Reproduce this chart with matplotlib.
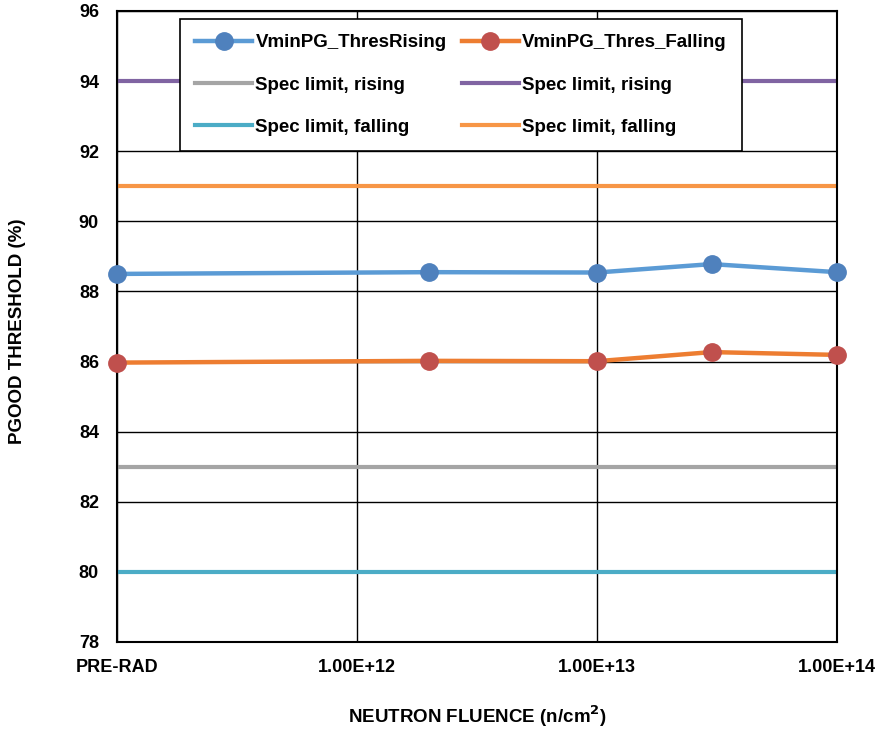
import numpy as np
from matplotlib import pyplot as plt

# fluencias (PRE-RAD se dibuja en 1e11 sobre el eje log)
fluencia = [1e11, 2e12, 1e13, 3e13, 1e14]
umbral_subida = [88.50, 88.55, 88.54, 88.78, 88.55]
umbral_bajada = [85.97, 86.02, 86.01, 86.27, 86.19]

# limites de especificacion
lim_subida_min = 83
lim_subida_max = 94
lim_bajada_min = 80
lim_bajada_max = 91

ticks_x = [1e11, 1e12, 1e13, 1e14]
etiquetas_x = ['PRE-RAD', '1.00E+12', '1.00E+13', '1.00E+14']
ticks_y = np.arange(78, 97, 2)

plt.rcParams['font.family'] = ['Liberation Sans', 'DejaVu Sans']
plt.rcParams['font.weight'] = 'bold'

fig = plt.figure(figsize=(8.82, 7.31), dpi=100)
ax = fig.add_axes([117 / 882, 1 - 642 / 731, 720 / 882, 631 / 731])

ax.plot(fluencia, umbral_subida, color='#5B9BD5', lw=3.2, marker='o', ms=12.5,
        mfc='#4F81BD', mec='#4F81BD', label='VminPG_ThresRising', zorder=5, clip_on=False)
ax.plot(fluencia, umbral_bajada, color='#ED7D31', lw=3.2, marker='o', ms=12.5,
        mfc='#C0504D', mec='#C0504D', label='VminPG_Thres_Falling', zorder=5, clip_on=False)

xs = [fluencia[0], fluencia[-1]]
ax.plot(xs, [lim_subida_min] * 2, color='#A5A5A5', lw=3, label='Spec limit, rising')
ax.plot(xs, [lim_subida_max] * 2, color='#8064A2', lw=3, label='Spec limit, rising')
ax.plot(xs, [lim_bajada_min] * 2, color='#4BACC6', lw=3, label='Spec limit, falling')
ax.plot(xs, [lim_bajada_max] * 2, color='#F79646', lw=3, label='Spec limit, falling')

ax.set_xscale('log')
ax.set_xlim(1e11, 1e14)
ax.set_ylim(78, 96)
ax.set_xticks(ticks_x)
ax.set_xticklabels(etiquetas_x)
ax.xaxis.set_minor_locator(plt.NullLocator())
ax.set_yticks(ticks_y)
ax.grid(True, color='black', lw=1)
ax.set_axisbelow(True)
for s in ax.spines.values():
    s.set_linewidth(1.5)
ax.tick_params(axis='both', length=0, labelsize=13)
ax.tick_params(axis='x', pad=12)
ax.tick_params(axis='y', pad=13)

fig.text(477 / 882, 1 - 716 / 731, 'NEUTRON FLUENCE (n/cm$^\\mathbf{2}$)', fontsize=13.5,
         fontweight='bold', ha='center', va='center')
fig.text(18 / 882, 1 - 331 / 731, 'PGOOD THRESHOLD (%)', fontsize=13.5,
         fontweight='bold', ha='center', va='center', rotation=90)

# orden de leyenda: columnas de arriba a abajo
h, l = ax.get_legend_handles_labels()
orden = [0, 2, 4, 1, 3, 5]
leg = ax.legend([h[i] for i in orden], [l[i] for i in orden], ncol=2,
                loc='upper left', bbox_to_anchor=(63 / 720, 1 - 8 / 631),
                fontsize=13.5, frameon=True, fancybox=False, edgecolor='black',
                framealpha=1, borderpad=0.8, labelspacing=1.35, handlelength=3.05,
                handletextpad=0.17, columnspacing=0.8, borderaxespad=0)
leg.get_frame().set_linewidth(1.2)
leg.set_zorder(10)

fig.savefig('out.png', dpi=100)
